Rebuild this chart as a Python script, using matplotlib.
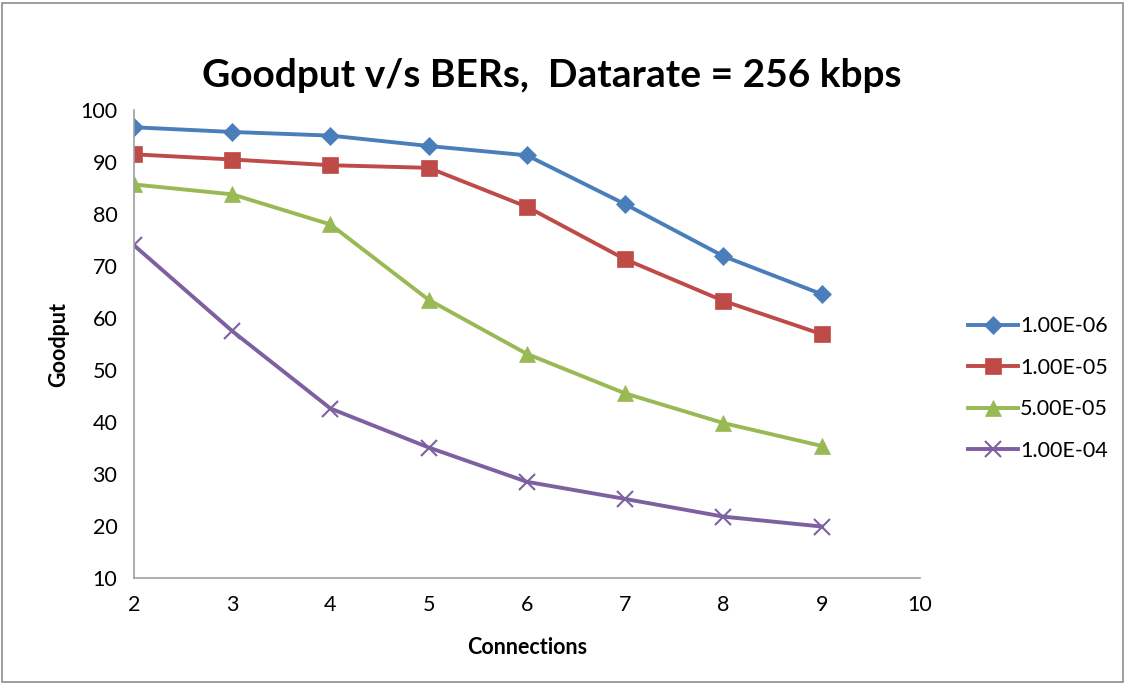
import matplotlib.pyplot as plt
from matplotlib.patches import Rectangle

plt.rcParams['font.family'] = ['Lato', 'DejaVu Sans']

connections = [2, 3, 4, 5, 6, 7, 8, 9]
ber_labels = ['1.00E-06', '1.00E-05', '5.00E-05', '1.00E-04']
goodput_1e6 = [96.7, 95.8, 95.1, 93.1, 91.3, 81.9, 71.9, 64.6]
goodput_1e5 = [91.5, 90.5, 89.4, 88.9, 81.4, 71.3, 63.3, 56.9]
goodput_5e5 = [85.7, 83.8, 78.0, 63.5, 53.1, 45.5, 39.8, 35.4]
goodput_1e4 = [74.0, 57.5, 42.6, 35.1, 28.5, 25.2, 21.8, 19.9]

series = [goodput_1e6, goodput_1e5, goodput_5e5, goodput_1e4]
colors = ['#4a7ebb', '#be4b48', '#98b954', '#7d60a0']
markers = ['D', 's', '^', 'x']
msizes = [9, 12, 11, 11]

fig = plt.figure(figsize=(11.26, 6.84), dpi=100)
ax = fig.add_axes([0.119, 0.155, 0.698, 0.684])

for vals, lab, c, m, ms in zip(series, ber_labels, colors, markers, msizes):
    ax.plot(connections, vals, color=c, lw=2.8, marker=m, markersize=ms,
            markeredgewidth=1.5 if m == 'x' else 0.5, markeredgecolor=c,
            label=lab)

ax.set_xlim(2, 10)
ax.set_ylim(10, 100)
ax.set_xticks(range(2, 11))
ax.set_yticks(range(10, 101, 10))
ax.tick_params(length=0, labelsize=15.5, pad=12)
for s in ['top', 'right']:
    ax.spines[s].set_visible(False)
for s in ['left', 'bottom']:
    ax.spines[s].set_color('#a0a0a0')
    ax.spines[s].set_linewidth(1.2)

ax.set_xlabel('Connections', fontsize=15.5, fontweight='bold', labelpad=16)
ax.set_ylabel('Goodput', fontsize=15.5, fontweight='bold', labelpad=8)
fig.text(0.49, 0.89, 'Goodput v/s BERs,  Datarate = 256 kbps', ha='center',
         va='center', fontsize=28, fontweight='bold')

leg = ax.legend(loc='center left', bbox_to_anchor=(1.037, 0.405), frameon=False,
                fontsize=15.5, labelspacing=1.0, handlelength=2.3, handletextpad=0.1)

fig.patches.append(Rectangle((0.002, 0.003), 0.995, 0.993, transform=fig.transFigure,
                             fill=False, edgecolor='#8c8c8c', linewidth=1.2))

plt.savefig('out.png', dpi=100)
